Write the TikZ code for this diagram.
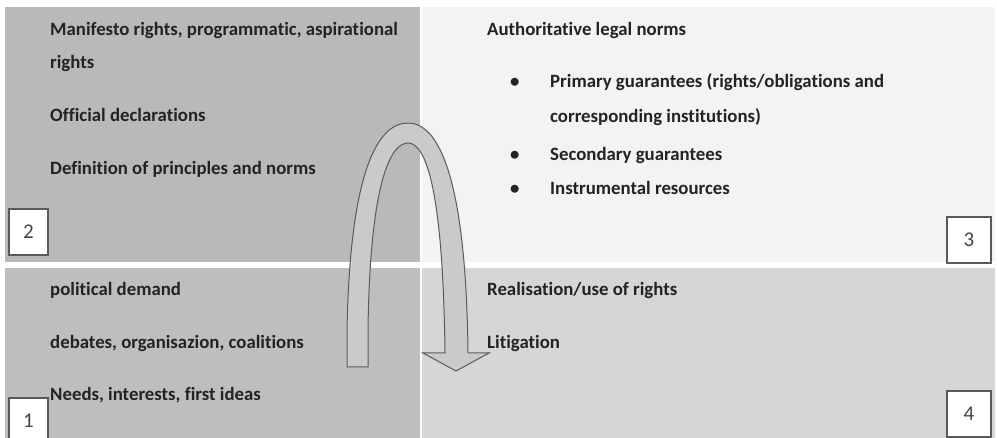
\documentclass[tikz,border=0pt]{standalone}
\usepackage{fontspec}
\setmainfont{Carlito}[Ligatures=NoCommon]
\definecolor{Ink}{RGB}{35,35,35}
\definecolor{PanelDark}{RGB}{185,185,185}
\definecolor{PanelMid}{RGB}{190,190,190}
\definecolor{PanelLight}{RGB}{243,243,243}
\definecolor{PanelSoft}{RGB}{214,214,214}
\definecolor{ArrowFill}{RGB}{202,202,202}
\definecolor{ArrowLine}{RGB}{90,90,90}

\begin{document}
\begin{tikzpicture}[x=1pt, y=-1pt,
  item/.style={anchor=west, inner sep=0pt, yshift=-2pt, text=Ink, font=\fontsize{18.8}{22}\selectfont\bfseries, text height=12pt, text depth=4pt},
  numbox/.style={draw=ArrowLine, line width=1.3pt, fill=white, minimum width=39pt, minimum height=46pt, inner sep=0pt, text=Ink!85, font=\fontsize{21}{24}\selectfont}]

% Canvas
\clip (0,0) rectangle (997,438);
\fill[white] (0,0) rectangle (997,438);

% Quadrants
\fill[PanelDark] (5,7) rectangle (420,262);
\fill[PanelLight] (422,7) rectangle (995,262);
\fill[PanelMid] (5,268) rectangle (420,438);
\fill[PanelSoft] (422,268) rectangle (995,438);

% Quadrant 2 (top left)
\node[item] (manifesto) at (50,30) {Manifesto rights, programmatic, aspirational};
\node[item] (rights) at (50,63) {rights};
\node[item] (official) at (50,116) {Official declarations};
\node[item] (definition) at (50,169) {Definition of principles and norms};

% Quadrant 3 (top right)
\node[item] (legal) at (487,30) {Authoritative legal norms};
\node[item] (bulletA) at (510,82) {\textbullet};
\node[item] (primary) at (550,82) {Primary guarantees (rights/obligations and};
\node[item] (institutions) at (550,117) {corresponding institutions)};
\node[item] (bulletB) at (510,155) {\textbullet};
\node[item] (secondary) at (550,155) {Secondary guarantees};
\node[item] (bulletC) at (510,189) {\textbullet};
\node[item] (instrumental) at (550,189) {Instrumental resources};

% Quadrant 1 (bottom left)
\node[item] (demand) at (50,290) {political demand};
\node[item] (debates) at (50,343) {debates, organisazion, coalitions};
\node[item] (needs) at (50,395) {Needs, interests, first ideas};

% Quadrant 4 (bottom right)
\node[item] (realisation) at (487,290) {Realisation/use of rights};
\node[item] (litigation) at (487,343) {Litigation};

% Arch arrow from 1 over to 4
\filldraw[fill=ArrowFill, draw=ArrowLine, line width=1pt]
  (347,367) -- (347,330) .. controls (350,170) and (378,123) .. (408,123)
  .. controls (438,123) and (466,175) .. (468,353)
  -- (489,353) -- (456,371) -- (423,353) -- (445,353)
  .. controls (443,185) and (425,143) .. (408,143)
  .. controls (391,143) and (370,180) .. (368,330) -- (368,367) -- cycle;

% Step numbers
\node[numbox] (two) at (28.5,232) {\raisebox{-3pt}{2}};
\node[numbox] (one) at (28.5,421) {\raisebox{-3pt}{1}};
\node[numbox, minimum width=44pt] (three) at (969,240) {\raisebox{-3pt}{3}};
\node[numbox, minimum width=44pt] (four) at (969,414) {\raisebox{-3pt}{4}};

\end{tikzpicture}
\end{document}
